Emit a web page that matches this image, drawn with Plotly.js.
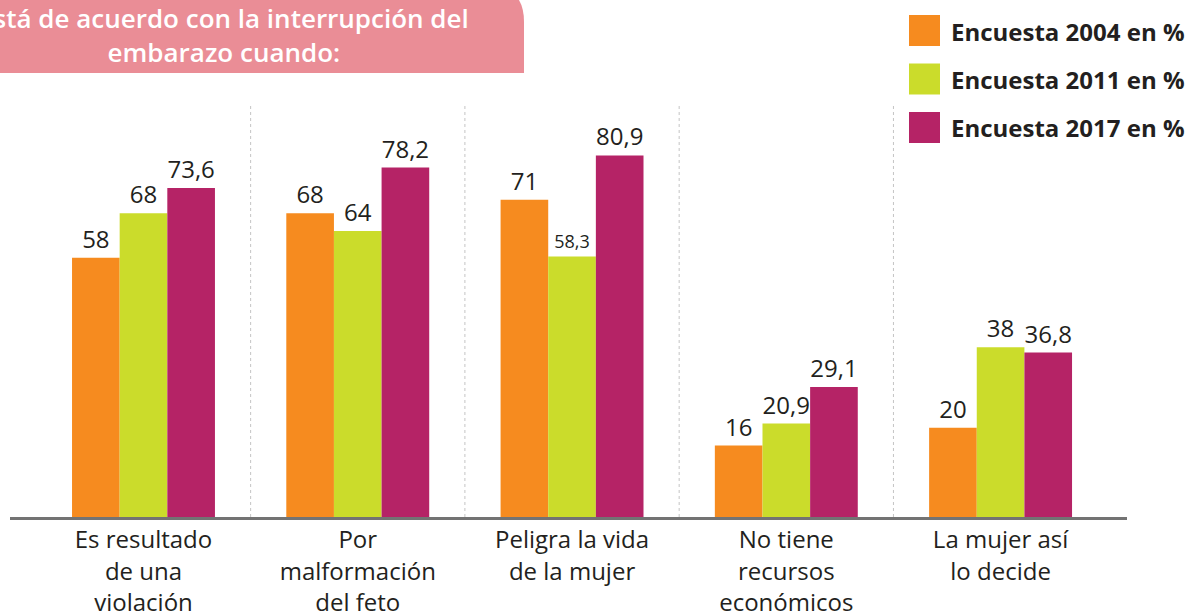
<!DOCTYPE html>
<html>
<head>
<meta charset="utf-8">
<script src="https://cdn.plot.ly/plotly-3.0.1.min.js"></script>
<style>html,body{margin:0;padding:0;background:#fff;}#chart{width:1192px;height:613px;}</style>
</head>
<body>
<div id="chart"></div>
<script>
// ---- data ----
var categories = ["Es resultado<br>de una<br>violación", "Por<br>malformación<br>del feto", "Peligra la vida<br>de la mujer", "No tiene<br>recursos<br>económicos", "La mujer así<br>lo decide"];
var seriesNames = ["Encuesta 2004 en %", "Encuesta 2011 en %", "Encuesta 2017 en %"];
var values2004 = [58, 68, 71, 16, 20];
var values2011 = [68, 64, 58.3, 20.9, 38];
var values2017 = [73.6, 78.2, 80.9, 29.1, 36.8];
var colors = ["#F68B1F", "#CBDC2B", "#B52366"];
var titleText = "Está de acuerdo con la interrupción del<br>embarazo cuando:";

// ---- layout geometry (pixels) ----
var W = 1192, H = 613;
var L = 10, R = 1127, T = 105, B = 517;
function px(x) { return (x - L) / (R - L); }
function py(y) { return (B - y) / (B - T); }

function fmt(v) { return String(v).replace('.', ','); }

var allVals = [values2004, values2011, values2017];
var traces = allVals.map(function (vals, i) {
  return {
    type: 'bar',
    name: seriesNames[i],
    x: categories,
    y: vals,
    marker: { color: colors[i], line: { width: 0 } },
    text: vals.map(fmt),
    textposition: 'outside',
    textfont: {
      family: '"Open Sans", sans-serif',
      color: '#231F20',
      size: vals.map(function (v) { return (i === 1 && v === 58.3) ? 18 : 24; })
    },
    constraintext: 'none',
    cliponaxis: false,
    hoverinfo: 'skip'
  };
});

var shapes = [];
// dotted separators between groups
for (var k = 0; k < categories.length - 1; k++) {
  shapes.push({
    type: 'line', xref: 'x', yref: 'paper',
    x0: k + 0.5, x1: k + 0.5, y0: 0, y1: 1,
    line: { color: '#c4c4c4', width: 1, dash: 'dot' }, layer: 'below'
  });
}
// title box
var p = function (x, y) { return px(x) + ',' + py(y); };
shapes.push({
  type: 'path', xref: 'paper', yref: 'paper',
  path: 'M' + p(-5, 73) + ' L' + p(524, 73) + ' L' + p(524, 22) + ' Q' + p(524, -15) + ' ' + p(486, -15) + ' L' + p(-5, -15) + ' Z',
  fillcolor: '#EA8D96', line: { width: 0 }, layer: 'above'
});

var annotations = [{
  xref: 'paper', yref: 'paper', x: px(224), y: py(35), xanchor: 'center', yanchor: 'middle',
  text: titleText, showarrow: false, align: 'center',
  font: { family: '"Open Sans", sans-serif', size: 26, color: '#ffffff', weight: 600 }
}];

// custom legend
for (var s = 0; s < seriesNames.length; s++) {
  var rowTop = 15 + s * 48.5;
  shapes.push({
    type: 'rect', xref: 'paper', yref: 'paper',
    x0: px(909), x1: px(940), y0: py(rowTop + 31), y1: py(rowTop),
    fillcolor: colors[s], line: { width: 0 }
  });
  annotations.push({
    xref: 'paper', yref: 'paper', x: px(949), y: py(rowTop + 16), xanchor: 'left', yanchor: 'middle',
    text: seriesNames[s], showarrow: false,
    font: { family: '"Open Sans", sans-serif', size: 24, color: '#231F20', weight: 'bold' }
  });
}

var layout = {
  width: W, height: H,
  margin: { l: L, r: W - R, t: T, b: H - B, pad: 0 },
  paper_bgcolor: '#ffffff', plot_bgcolor: '#ffffff',
  barmode: 'group', bargap: 0.333, bargroupgap: 0,
  showlegend: false,
  xaxis: {
    range: [-0.623, 4.59], showgrid: false, zeroline: false,
    showline: true, linecolor: '#737373', linewidth: 2.5,
    ticks: '', tickfont: { family: '"Open Sans", sans-serif', size: 24, color: '#231F20' },
    fixedrange: true
  },
  yaxis: {
    range: [0, 92.2], visible: false, showgrid: false, zeroline: false, fixedrange: true
  },
  shapes: shapes,
  annotations: annotations,
  font: { family: '"Open Sans", sans-serif' }
};

Plotly.newPlot('chart', traces, layout, { displayModeBar: false, staticPlot: true });
</script>
</body>
</html>
